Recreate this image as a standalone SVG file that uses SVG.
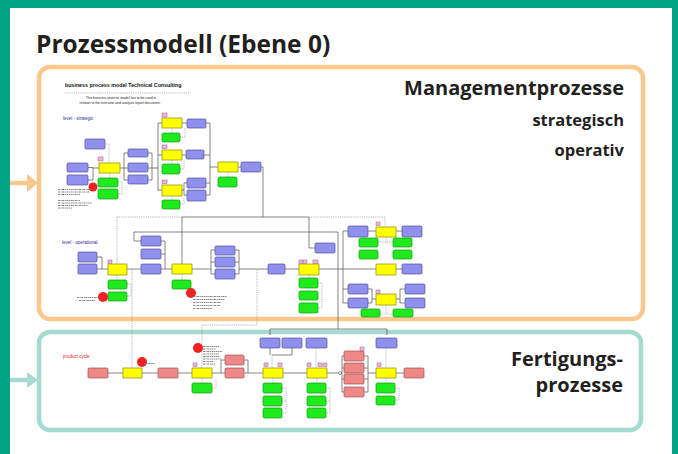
<svg xmlns="http://www.w3.org/2000/svg" width="678" height="454" viewBox="0 0 678 454">
<style>
.hd{font-family:"Open Sans","Noto Sans","Liberation Sans",sans-serif;font-weight:bold;fill:#231f20}
.b{fill:#9090EE;stroke:#50509a;stroke-width:0.7}
.y{fill:#FFFF00;stroke:#8a8a00;stroke-width:0.7}
.g{fill:#1EEA1E;stroke:#129a12;stroke-width:0.7}
.s{fill:#F08888;stroke:#985050;stroke-width:0.7}
.p{fill:#F2B4DC;stroke:#906080;stroke-width:0.5}
.c{fill:#EE2222}
.ln{fill:none;stroke:#505050;stroke-width:0.7}
.dl{fill:none;stroke:#888;stroke-width:0.6;stroke-dasharray:1.2 1}
.tx{fill:none;stroke:#777;stroke-width:0.9;stroke-dasharray:2 0.6 1 0.6}
.sm{font-family:"Liberation Sans",Arial,sans-serif}
</style>
<rect width="678" height="454" fill="#00A383"/>
<rect x="10" y="8" width="662" height="446" fill="#fff"/>
<g id="title"><text class="hd" x="36" y="53" font-size="24.5">Prozessmodell (Ebene 0)</text></g>

<g id="connectors">
<path d="M10,183 H29" stroke="#FAC88C" stroke-width="4.5" fill="none"/>
<polygon points="27,174 38,183 27,192" fill="#FAC88C"/>
<path d="M10,380 H29" stroke="#A4DAD0" stroke-width="4.5" fill="none"/>
<polygon points="27,372 38,380 27,388" fill="#A4DAD0"/>
</g>

<g id="management">
<rect x="39" y="67" width="604" height="252" rx="11" fill="#fff" stroke="#FAC88C" stroke-width="4.5"/>
<text class="hd" x="624" y="95" font-size="20" text-anchor="end">Managementprozesse</text>
<text class="hd" x="624" y="126" font-size="16.5" text-anchor="end">strategisch</text>
<text class="hd" x="624" y="156" font-size="16.5" text-anchor="end">operativ</text>
</g>

<g id="fertigung">
<rect x="39" y="332" width="602" height="98" rx="11" fill="#fff" stroke="#A4DAD0" stroke-width="4.5"/>
<text class="hd" x="623" y="366" font-size="20" text-anchor="end">Fertigungs-</text>
<text class="hd" x="623" y="392" font-size="20" text-anchor="end">prozesse</text>
</g>

<g id="process-model">
<text class="sm" x="65" y="87" font-size="5.3" font-weight="bold" fill="#111">business process model Technical Consulting</text>
<path d="M65,93 H191" class="dl"/>
<text class="sm" x="121" y="99" font-size="3.4" text-anchor="middle" fill="#222">This business process model has to be used in</text>
<text class="sm" x="120" y="104" font-size="3.4" text-anchor="middle" fill="#222">relation to the interview and analysis report document.</text>
<text class="sm" x="63" y="120" font-size="4.5" fill="#3030A0">level - strategic</text>
<text class="sm" x="62" y="244" font-size="4.5" fill="#3030A0">level - operational</text>
<text class="sm" x="63" y="358" font-size="4.5" fill="#E02020">product cycle</text>

<g id="model-lines">
<path class="ln" d="M88,167.5 H93 V180 H88 M93,168 H99 M120,168 H124 M124,153 V180 M124,153 H128 M124,168 H128 M124,180 H128 M148,153 H152 M148,168 H152 M148,180 H152 M152,153 V180 M152,168 H158 M158,123 V191 M158,123 H162 M158,155 H162 M158,190 H162 M182,123 H187 M182,155 H186 M182,190 H184 M184,183 V195 M184,183 H187 M184,195 H187 M206,123 H210 M204,155 H210 M206,183 H210 M206,195 H210 M210,123 V195 M210,167 H218 M238,167 H241 M261,167 H263 V217"/>
<path class="dl" d="M105,144 H109 V163 M110,173 V178 M118,182 H122 V194 H118 M172,128 V133 M180,137 H185 V128 M172,160 V164 M180,169 H184 V160 M172,196 V200 M180,204 H184 V196 M228,172 V177"/>
<path class="ln" d="M97,257 H102 V269 H97 M102,269 H108 M127,269 H141 M134,232 V241 H141 M161,241 H165 V269 M161,254 H165 M161,269 H172 M192,269 H211 M211,250 V274 M211,250 H215 M211,262 H215 M211,274 H215 M235,250 H239 M235,262 H239 M235,274 H239 M239,250 V274 M239,269 H268 M285,269 H299 M319,269 H343 M343,231 V303 M343,231 H348 M343,269 H376 M343,289 H348 M343,303 H348 M368,231 H376 M396,231 H402 M396,269 H402 M368,289 H372 V303 H368 M372,299 H376 M396,299 H400 M400,289 V303 M400,289 H405 M400,303 H405 M134,232 H338 M338,232 V329 M270,329 H387 M270,329 V335 M387,329 V335 M182,217 H309 M182,217 V264 M309,217 V248 H315"/>
<path class="dl" d="M117,217 H182 M309,217 H385 V227 M117,217 V264 M132,270 V368 M257,270 V325 H202 V368 M117,275 V280 M127,284 H131 V296 H127 M182,274 V280 M309,275 V278 M318,283 H322 V308 H318 M386,237 V244 M378,242 H393 M386,305 V314 M380,314 H393"/>
<path class="ln" d="M108,373 H123 M142,373 H158 M178,373 H192 M212,373 H221 M221,360 V373 M221,360 H225 M221,373 H225 M244,360 H248 V373 M244,373 H263 M283,373 H307 M327,373 H338.5 M341.5,373 H342 M342,356 V392 M342,356 H344 M342,368 H344 M342,379 H344 M342,392 H344 M364,356 H368 M364,368 H368 M364,379 H368 M364,392 H368 M368,356 V392 M368,373 H376 M396,373 H404 M292,348 V355 H272 M270,348 V355"/>
<circle cx="340" cy="373" r="1.5" fill="none" stroke="#555" stroke-width="0.6"/>
<path class="dl" d="M272,355 V368 M316,348 V368 M386,348 V368 M202,378 V383 M212,388 H216 V380 M273,378 V383 M282,388 H286 V413 H282 M282,401 H286 M317,378 V383 M326,388 H330 V413 H326 M326,401 H330 M386,378 V383 M395,388 H399 V400 H395"/>
</g>

<g id="strategic">
<rect class="b" x="85" y="139" width="20" height="10" rx="1.2"/>
<rect class="b" x="67" y="163" width="21" height="9" rx="1.2"/>
<rect class="b" x="67" y="175" width="21" height="10" rx="1.2"/>
<rect class="b" x="128" y="149" width="20" height="8" rx="1.2"/>
<rect class="b" x="128" y="163" width="20" height="9" rx="1.2"/>
<rect class="b" x="128" y="175" width="20" height="9" rx="1.2"/>
<rect class="b" x="187" y="119" width="19" height="9" rx="1.2"/>
<rect class="b" x="186" y="150" width="18" height="9" rx="1.2"/>
<rect class="b" x="187" y="178" width="19" height="10" rx="1.2"/>
<rect class="b" x="187" y="190" width="19" height="11" rx="1.2"/>
<rect class="b" x="241" y="162" width="20" height="10" rx="1.2"/>
<rect class="y" x="99" y="163" width="21" height="10"/>
<rect class="y" x="162" y="118" width="20" height="10"/>
<rect class="y" x="162" y="150" width="20" height="10"/>
<rect class="y" x="162" y="185" width="20" height="11"/>
<rect class="y" x="218" y="162" width="20" height="10"/>
<rect class="g" x="98" y="178" width="20" height="9" rx="1.5"/>
<rect class="g" x="98" y="189" width="20" height="10" rx="1.5"/>
<rect class="g" x="162" y="133" width="18" height="9" rx="1.5"/>
<rect class="g" x="162" y="164" width="18" height="10" rx="1.5"/>
<rect class="g" x="162" y="200" width="18" height="9" rx="1.5"/>
<rect class="g" x="218" y="177" width="19" height="10" rx="1.5"/>
<rect class="p" x="98" y="157" width="5" height="4"/>
<rect class="p" x="162" y="113" width="5" height="4"/>
<rect class="p" x="162" y="145" width="5" height="3.5"/>
<rect class="p" x="162" y="180" width="5" height="3.5"/>
<circle class="c" cx="93" cy="187" r="4.5"/>
<path class="tx" d="M58,189.5 H91 M58,192 H90 M58,194.5 H80 M58,200.5 H80 M58,203 H92 M58,205.5 H88 M58,208 H72"/>
</g>

<g id="operational">
<rect class="b" x="78" y="252" width="19" height="10" rx="1.2"/>
<rect class="b" x="78" y="264" width="19" height="10" rx="1.2"/>
<rect class="b" x="141" y="236" width="20" height="10" rx="1.2"/>
<rect class="b" x="141" y="249" width="20" height="10" rx="1.2"/>
<rect class="b" x="141" y="264" width="20" height="10" rx="1.2"/>
<rect class="b" x="215" y="246" width="20" height="9" rx="1.2"/>
<rect class="b" x="215" y="257" width="20" height="10" rx="1.2"/>
<rect class="b" x="215" y="269" width="20" height="10" rx="1.2"/>
<rect class="b" x="268" y="264" width="17" height="10" rx="1.2"/>
<rect class="b" x="315" y="243" width="20" height="10" rx="1.2"/>
<rect class="b" x="348" y="226" width="20" height="11" rx="1.2"/>
<rect class="b" x="402" y="226" width="20" height="11" rx="1.2"/>
<rect class="b" x="402" y="264" width="20" height="10" rx="1.2"/>
<rect class="b" x="348" y="284" width="20" height="10" rx="1.2"/>
<rect class="b" x="348" y="298" width="20" height="10" rx="1.2"/>
<rect class="b" x="405" y="284" width="20" height="10" rx="1.2"/>
<rect class="b" x="405" y="298" width="20" height="10" rx="1.2"/>
<rect class="y" x="108" y="264" width="19" height="11"/>
<rect class="y" x="172" y="264" width="20" height="10"/>
<rect class="y" x="299" y="264" width="20" height="11"/>
<rect class="y" x="376" y="227" width="20" height="10"/>
<rect class="y" x="376" y="264" width="20" height="11" stroke="#8a7a30"/>
<rect class="y" x="376" y="294" width="20" height="11"/>
<rect class="g" x="108" y="280" width="19" height="9" rx="1.5"/>
<rect class="g" x="108" y="292" width="19" height="9" rx="1.5"/>
<rect class="g" x="172" y="280" width="19" height="9" rx="1.5"/>
<rect class="g" x="299" y="278" width="19" height="10" rx="1.5"/>
<rect class="g" x="299" y="291" width="19" height="9" rx="1.5"/>
<rect class="g" x="299" y="303" width="19" height="10" rx="1.5"/>
<rect class="g" x="359" y="238" width="19" height="9" rx="1.5"/>
<rect class="g" x="359" y="250" width="19" height="9" rx="1.5"/>
<rect class="g" x="393" y="238" width="19" height="9" rx="1.5"/>
<rect class="g" x="393" y="250" width="19" height="9" rx="1.5"/>
<rect class="g" x="361" y="309" width="19" height="8" rx="1.5"/>
<rect class="g" x="393" y="309" width="20" height="8" rx="1.5"/>
<rect class="p" x="108" y="260" width="4" height="3.5"/>
<rect class="p" x="299" y="260" width="4" height="3.5"/>
<rect class="p" x="303" y="260" width="4" height="3.5"/>
<rect class="p" x="313" y="260" width="5" height="3.5"/>
<rect class="p" x="376" y="222" width="4" height="3.5"/>
<rect class="p" x="376" y="290" width="4" height="3.5"/>
<circle class="c" cx="103" cy="297" r="5"/>
<circle class="c" cx="191" cy="293" r="5"/>
<path class="tx" d="M77,297.5 H98 M79,300.5 H95 M193,296.5 H227 M193,299.5 H225 M193,302.5 H221 M193,305.5 H220 M193,308.5 H212"/>
</g>

<g id="product">
<rect class="s" x="88" y="368" width="20" height="10" rx="1.2"/>
<rect class="s" x="158" y="368" width="20" height="10" rx="1.2"/>
<rect class="s" x="225" y="355" width="19" height="10" rx="1.2"/>
<rect class="s" x="225" y="368" width="19" height="10" rx="1.2"/>
<rect class="s" x="344" y="351" width="20" height="10" rx="1.2"/>
<rect class="s" x="344" y="363" width="20" height="10" rx="1.2"/>
<rect class="s" x="344" y="374" width="20" height="10" rx="1.2"/>
<rect class="s" x="344" y="387" width="20" height="10" rx="1.2"/>
<rect class="s" x="404" y="368" width="20" height="10" rx="1.2"/>
<rect class="y" x="123" y="368" width="19" height="10"/>
<rect class="y" x="192" y="368" width="20" height="10"/>
<rect class="y" x="263" y="368" width="20" height="10"/>
<rect class="y" x="307" y="368" width="20" height="10"/>
<rect class="y" x="376" y="368" width="20" height="10"/>
<rect class="g" x="192" y="383" width="20" height="10" rx="1.5"/>
<rect class="g" x="263" y="383" width="19" height="10" rx="1.5"/>
<rect class="g" x="263" y="396" width="19" height="10" rx="1.5"/>
<rect class="g" x="263" y="408" width="19" height="10" rx="1.5"/>
<rect class="g" x="307" y="383" width="19" height="10" rx="1.5"/>
<rect class="g" x="307" y="396" width="19" height="10" rx="1.5"/>
<rect class="g" x="307" y="408" width="19" height="10" rx="1.5"/>
<rect class="g" x="376" y="383" width="19" height="10" rx="1.5"/>
<rect class="g" x="376" y="396" width="19" height="9" rx="1.5"/>
<rect class="b" x="260" y="338" width="20" height="10" rx="1.2"/>
<rect class="b" x="282" y="338" width="20" height="10" rx="1.2"/>
<rect class="b" x="306" y="338" width="21" height="10" rx="1.2"/>
<rect class="b" x="376" y="338" width="21" height="10" rx="1.2"/>
<rect class="p" x="193" y="363" width="4" height="3.5"/>
<rect class="p" x="264" y="363" width="4" height="3.5"/>
<rect class="p" x="278" y="363" width="4" height="3.5"/>
<rect class="p" x="307" y="363" width="4" height="3.5"/>
<rect class="p" x="318" y="363" width="4" height="3.5"/>
<rect class="p" x="323" y="363" width="4" height="3.5"/>
<rect class="p" x="360" y="347" width="4" height="3.5"/>
<rect class="p" x="377" y="363" width="4" height="3.5"/>
<circle class="c" cx="142" cy="362" r="5"/>
<circle class="c" cx="198" cy="348" r="5"/>
<path class="tx" d="M144,363.5 H155 M203,346.5 H219 M203,349 H216 M203,351.5 H222 M203,354 H219 M203,356.5 H220 M203,359 H221 M203,361.5 H214 M203,364 H215"/>
</g>
</g>
</svg>
